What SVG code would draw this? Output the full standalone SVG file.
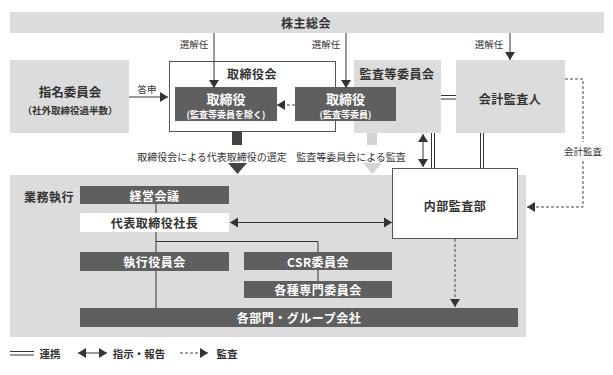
<svg xmlns="http://www.w3.org/2000/svg" width="613" height="375" viewBox="0 0 613 375">
<style>
text{font-family:"Noto Sans CJK JP","Noto Sans CJK SC",sans-serif;fill:#333;dominant-baseline:central;text-anchor:middle}
.b{font-weight:bold}
.w{fill:#fff}
.lt{fill:#dcdcdc}
.dk{fill:#5f5f5f}
.ln{stroke:#333;stroke-width:1;fill:none}
.dl{stroke:#444;stroke-width:1;fill:none;stroke-dasharray:3,2}
.t12{font-size:12px;letter-spacing:0.5px}
.t10{font-size:10px}
.t9{font-size:9.5px}
</style>
<defs>
<marker id="ah" markerUnits="userSpaceOnUse" markerWidth="9" markerHeight="11" refX="8" refY="5" orient="auto-start-reverse" viewBox="0 0 9 10">
<path d="M0,0 L8,5 L0,10 z" fill="#333"/>
</marker>
</defs>

<g id="shareholders">
<rect class="lt" x="10" y="12" width="594" height="21"/>
<text class="b t12" x="306" y="22.5">株主総会</text>
</g>

<g id="business">
<rect class="lt" x="10" y="175" width="516" height="162"/>
<text class="b t12" x="49" y="196">業務執行</text>
</g>

<g id="nomination">
<rect class="lt" x="10" y="60" width="119" height="73"/>
<text class="b" x="70" y="91" style="font-size:12.5px">指名委員会</text>
<text class="b" x="70" y="110" style="font-size:9.5px">（社外取締役過半数）</text>
</g>

<g id="board">
<rect x="169.5" y="61.5" width="166" height="70" fill="#fff" stroke="#555" stroke-width="1"/>
<text class="b t12" x="252" y="73">取締役会</text>
</g>

<g id="auditcommittee">
<rect class="lt" x="354" y="60" width="87" height="73"/>
<text class="b t12" x="397" y="73">監査等委員会</text>
</g>

<g id="director1">
<rect class="dk" x="175" y="87" width="102" height="34"/>
<text class="b w" x="226" y="98" style="font-size:13px">取締役</text>
<text class="b w" x="226" y="114" style="font-size:9px">(監査等委員を除く)</text>
</g>

<g id="director2">
<rect class="dk" x="295" y="87" width="101" height="34"/>
<text class="b w" x="345.5" y="98" style="font-size:13px">取締役</text>
<text class="b w" x="345.5" y="114" style="font-size:9px">(監査等委員)</text>
</g>

<g id="accountingauditor">
<rect class="lt" x="456" y="60" width="109" height="73"/>
<text class="b t12" x="510" y="98">会計監査人</text>
</g>

<g id="internalaudit">
<rect x="392.5" y="168.5" width="125" height="70" fill="#fff" stroke="#555" stroke-width="1"/>
<text class="b t12" x="455" y="205">内部監査部</text>
</g>

<g id="mgmtmeeting">
<rect class="dk" x="80" y="186" width="149" height="18"/>
<text class="b w t12" x="154.5" y="195.5">経営会議</text>
</g>

<g id="president">
<rect fill="#fff" x="80" y="213" width="149" height="19"/>
<text class="b t12" x="154.5" y="222.5">代表取締役社長</text>
</g>

<g id="execofficers">
<rect class="dk" x="80" y="252" width="149" height="19"/>
<text class="b w t12" x="154.5" y="261.5">執行役員会</text>
</g>

<g id="csr">
<rect class="dk" x="244" y="252" width="148" height="18"/>
<text class="b w t12" x="318" y="261">CSR委員会</text>
</g>

<g id="committees">
<rect class="dk" x="244" y="281" width="148" height="17"/>
<text class="b w t12" x="318" y="289.5">各種専門委員会</text>
</g>

<g id="divisions">
<rect class="dk" x="80" y="308" width="438" height="19"/>
<text class="b w t12" x="299" y="317.5">各部門・グループ会社</text>
</g>

<g id="connectors">
<path class="ln" d="M214,33 V88" marker-end="url(#ah)"/>
<text class="t9" x="194" y="44">選解任</text>
<path class="ln" d="M346,33 V88" marker-end="url(#ah)"/>
<text class="t9" x="326" y="44">選解任</text>
<path class="ln" d="M510,33 V60" marker-end="url(#ah)"/>
<text class="t9" x="489" y="44">選解任</text>

<path class="ln" d="M129,97 H168" marker-end="url(#ah)"/>
<text class="t9" x="147" y="89">答申</text>

<path class="dl" d="M295,105 H277" marker-end="url(#ah)"/>

<path class="dl" d="M565,79 H583 V207 H527" marker-end="url(#ah)"/>
<rect fill="#fff" x="562" y="142" width="42" height="18"/>
<text class="t9" x="583" y="151">会計監査</text>

<path class="ln" d="M441,95.5 H456 M441,99 H456"/>
<path class="ln" d="M423,134 V167" marker-start="url(#ah)" marker-end="url(#ah)"/>
<path class="ln" d="M431.5,133 V168 M434.5,133 V168 M480.5,133 V168 M483.5,133 V168"/>

<rect fill="#444" x="232" y="131" width="10" height="14"/>
<text class="t10" x="212" y="156">取締役会による代表取締役の選定</text>
<path fill="#444" d="M228,163 H247 L237.5,174 z"/>

<rect fill="#d4d4d4" x="367" y="133" width="10" height="12"/>
<text class="t10" x="351" y="156">監査等委員会による監査</text>
<path fill="#d4d4d4" d="M363,163 H382 L372.5,174 z"/>

<path class="ln" d="M230,222.5 H392" marker-start="url(#ah)" marker-end="url(#ah)"/>

<path class="ln" d="M156,204 V213 M156,232 V252 M156,271 V308 M156,241.5 H318 V252 M318,270 V281"/>

<path class="dl" d="M455,239 V307" marker-end="url(#ah)"/>
</g>

<g id="legend">
<path class="ln" d="M10,351.5 H34 M10,355 H34"/>
<text class="b" x="50" y="353" style="font-size:10.5px">連携</text>
<path class="ln" d="M78,353 H107" marker-start="url(#ah)" marker-end="url(#ah)"/>
<text class="b" x="139" y="353" style="font-size:10.5px">指示・報告</text>
<path class="dl" d="M180,353 H208" marker-end="url(#ah)"/>
<text class="b" x="227" y="353" style="font-size:10.5px">監査</text>
</g>
</svg>
